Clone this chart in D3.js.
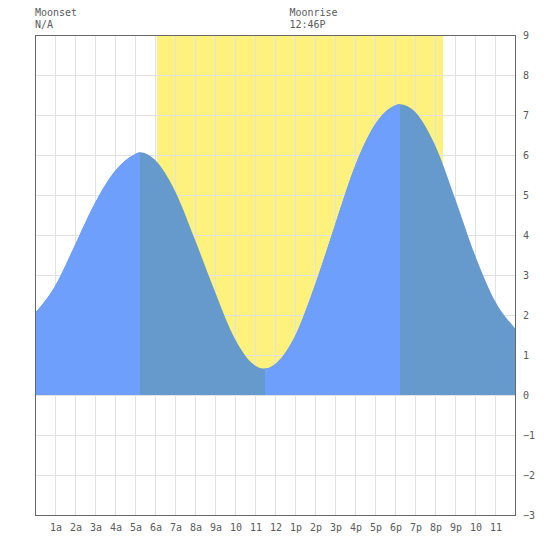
<!DOCTYPE html>
<html>
<head>
<meta charset="utf-8">
<script src="https://cdn.jsdelivr.net/npm/d3@7"></script>
<style>
  body { margin: 0; background: #fff; }
  svg text { font-family: "DejaVu Sans Mono", monospace; font-size: 10px; fill: #5a5a5a; }
</style>
</head>
<body>
<div id="chart"></div>
<script>
// tide heights (hour of day, feet)
const tideHours = [0, 1, 2, 3, 4, 5, 5.25, 6, 7, 8, 9, 10, 11, 11.5, 12, 13, 14, 15, 16, 17, 18, 18.25, 19, 20, 21, 22, 23, 24];
const tideHeights = [2.05, 2.72, 3.75, 4.8, 5.6, 6.02, 6.07, 5.88, 5.1, 3.88, 2.58, 1.4, 0.74, 0.66, 0.77, 1.47, 2.75, 4.25, 5.72, 6.76, 7.24, 7.27, 7.08, 6.25, 4.92, 3.5, 2.35, 1.67];
// turning points: high/low times (hours)
const turnHours = [5.25, 11.5, 18.25];
// sun up band
const sunUp = [6.1, 20.4];
const hourLabels = ["1a","2a","3a","4a","5a","6a","7a","8a","9a","10","11","12",
                    "1p","2p","3p","4p","5p","6p","7p","8p","9p","10","11"];
const yTicks = [-3, -2, -1, 0, 1, 2, 3, 4, 5, 6, 7, 8, 9];
const moonLabels = [
  {title: "Moonset", value: "N/A", hour: 0},
  {title: "Moonrise", value: "12:46P", hour: 12.72}
];

const width = 550, height = 550;
const margin = {top: 35, right: 35, bottom: 35, left: 35};

const svg = d3.select("#chart").append("svg")
    .attr("width", width)
    .attr("height", height);

const x = d3.scaleLinear().domain([0, 24]).range([margin.left, width - margin.right]);
const y = d3.scaleLinear().domain([-3, 9]).range([height - margin.bottom, margin.top]);

const tide = tideHours.map((h, i) => ({h: h, v: tideHeights[i]}));

// sun band (above datum only)
svg.append("rect")
    .attr("x", x(sunUp[0]))
    .attr("y", y(9))
    .attr("width", x(sunUp[1]) - x(sunUp[0]))
    .attr("height", y(0) - y(9))
    .attr("fill", "#fef17d");

// grid
const grid = svg.append("g").attr("stroke", "#e2e2e2").attr("stroke-width", 1);
grid.selectAll("line.v").data(d3.range(1, 24))
  .join("line").attr("class", "v")
    .attr("x1", d => x(d) + 0.5).attr("x2", d => x(d) + 0.5)
    .attr("y1", y(9)).attr("y2", y(-3));
grid.selectAll("line.h").data(yTicks.slice(1, -1))
  .join("line").attr("class", "h")
    .attr("x1", x(0)).attr("x2", x(24))
    .attr("y1", d => y(d) + 0.5).attr("y2", d => y(d) + 0.5);

// tide area
const area = d3.area()
    .x(d => x(d.h))
    .y0(y(0))
    .y1(d => y(d.v))
    .curve(d3.curveMonotoneX);

const defs = svg.append("defs");
const bounds = [0].concat(turnHours, [24]);
const rising = [];
for (let i = 0; i < bounds.length - 1; i += 2) rising.push([bounds[i], bounds[i + 1]]);

defs.append("clipPath").attr("id", "rise")
  .selectAll("rect").data(rising)
  .join("rect")
    .attr("x", d => x(d[0]))
    .attr("width", d => x(d[1]) - x(d[0]))
    .attr("y", 0).attr("height", height);

svg.append("path").datum(tide)
    .attr("fill", "#6699cc")
    .attr("d", area);
svg.append("path").datum(tide)
    .attr("fill", "#6f9ffc")
    .attr("clip-path", "url(#rise)")
    .attr("d", area);

// frame
svg.append("rect")
    .attr("x", x(0) + 0.5).attr("y", y(9) + 0.5)
    .attr("width", x(24) - x(0)).attr("height", y(-3) - y(9))
    .attr("fill", "none")
    .attr("stroke", "#666");

// axes labels
svg.append("g").selectAll("text").data(hourLabels)
  .join("text")
    .attr("x", (d, i) => x(i + 1) + 1)
    .attr("y", 531)
    .attr("text-anchor", "middle")
    .text(d => d);

svg.append("g").selectAll("text").data(yTicks)
  .join("text")
    .attr("x", 523)
    .attr("y", d => y(d) + 4)
    .text(d => d < 0 ? "\u2212" + Math.abs(d) : d);

// moon labels
const ml = svg.append("g").selectAll("g").data(moonLabels).join("g");
ml.append("text").attr("x", d => x(d.hour)).attr("y", 16).text(d => d.title);
ml.append("text").attr("x", d => x(d.hour)).attr("y", 28).text(d => d.value);
</script>
</body>
</html>
